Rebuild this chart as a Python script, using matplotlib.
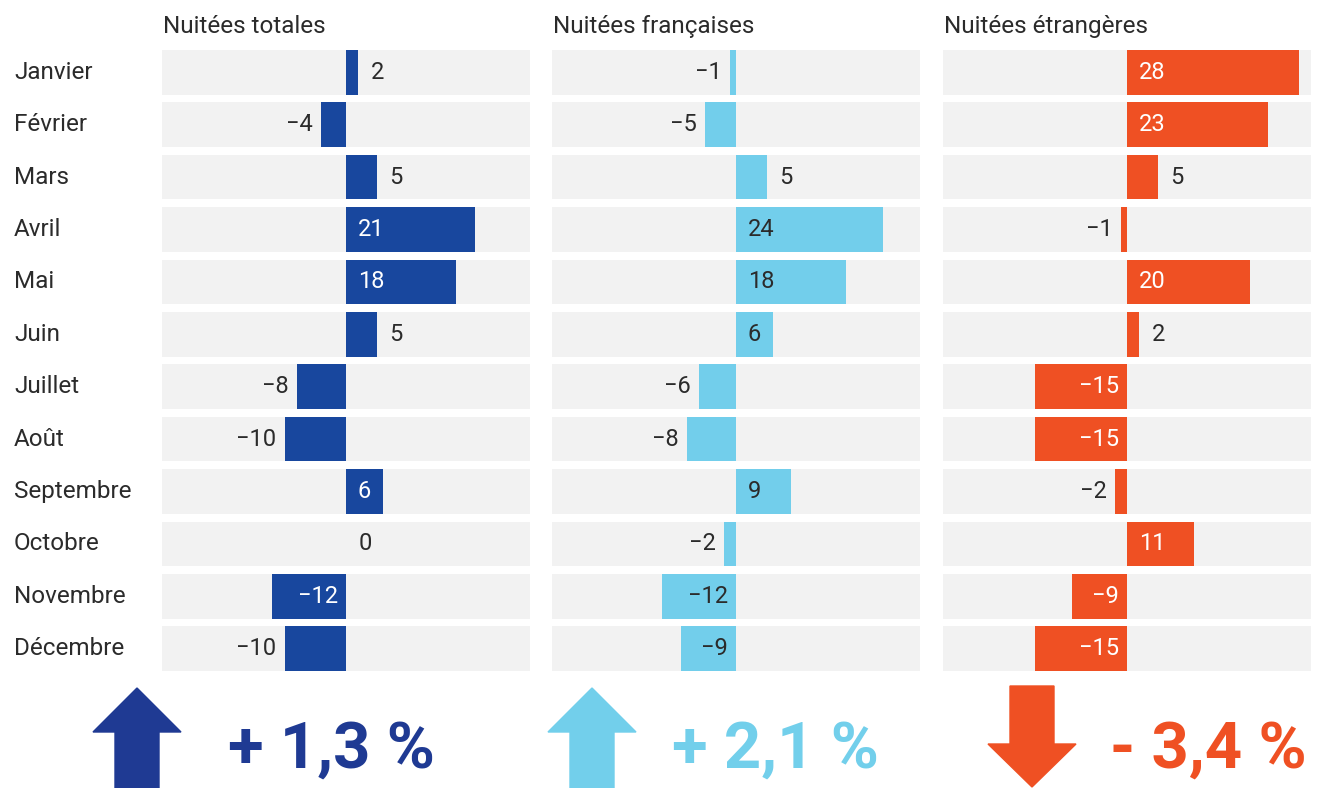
import numpy as np
import matplotlib
matplotlib.use("Agg")
import matplotlib.pyplot as plt
import matplotlib.transforms as mtransforms
from matplotlib.patches import Polygon

plt.rcParams['font.family'] = ['Roboto', 'DejaVu Sans']

months = ["Janvier", "Février", "Mars", "Avril", "Mai", "Juin", "Juillet",
          "Août", "Septembre", "Octobre", "Novembre", "Décembre"]
titles = ["Nuitées totales", "Nuitées françaises", "Nuitées étrangères"]
totales = [2, -4, 5, 21, 18, 5, -8, -10, 6, 0, -12, -10]
francaises = [-1, -5, 5, 24, 18, 6, -6, -8, 9, -2, -12, -9]
etrangeres = [28, 23, 5, -1, 20, 2, -15, -15, -2, 11, -9, -15]
annual = ["+ 1,3 %", "+ 2,1 %", "- 3,4 %"]
directions = ["up", "up", "down"]

series = [totales, francaises, etrangeres]
bar_colors = ["#18479E", "#72CEEB", "#EF5023"]
inside_text = ["white", "#2b2b2b", "white"]
arrow_colors = ["#1F3A93", "#72CFEB", "#EF5023"]
text_dark = "#2b2b2b"

W, H = 1317, 788
fig = plt.figure(figsize=(W / 100, H / 100), dpi=100)
renderer = fig.canvas.get_renderer()

lefts = [162, 552, 943]
pw = 368
top_px, bot_px = 50, 671
bh = 0.85
y = np.arange(len(months))
px_per_unit = pw / 60


def label_width(s):
    t = fig.text(0, 0, s, fontsize=17)
    w = t.get_window_extent(renderer).width
    t.remove()
    return w


axes = []
for k in range(3):
    ax = fig.add_axes([lefts[k] / W, (H - bot_px) / H, pw / W, (bot_px - top_px) / H])
    ax.barh(y, 60, left=-30, height=bh, color="#F2F2F2", zorder=1)
    ax.barh(y, series[k], height=bh, color=bar_colors[k], zorder=2)
    ax.set_xlim(-30, 30)
    ax.set_ylim(len(months) - 1 + bh / 2, -bh / 2)
    ax.axis("off")
    ax.annotate(titles[k], xy=(0, 1), xycoords="axes fraction", xytext=(1, 17),
                textcoords="offset points", ha="left", va="center",
                fontsize=17.5, color=text_dark)
    for i, v in enumerate(series[k]):
        label = str(v).replace("-", "\u2212")
        lw = label_width(label)
        bar_px = abs(v) * px_per_unit
        if v > 0 and bar_px - 12 - lw >= 9:
            ax.annotate(label, xy=(0, i), xytext=(8.5, 0), textcoords="offset points",
                        ha="left", va="center", fontsize=17, color=inside_text[k], zorder=3)
        elif v < 0 and bar_px - 8 - lw >= 20:
            ax.annotate(label, xy=(0, i), xytext=(-6, 0), textcoords="offset points",
                        ha="right", va="center", fontsize=17, color=inside_text[k], zorder=3)
        elif v >= 0:
            ax.annotate(label, xy=(v, i), xytext=(9, 0), textcoords="offset points",
                        ha="left", va="center", fontsize=17, color=text_dark, zorder=3)
        else:
            ax.annotate(label, xy=(v, i), xytext=(-6, 0), textcoords="offset points",
                        ha="right", va="center", fontsize=17, color=text_dark, zorder=3)
    axes.append(ax)

# month labels
tr = mtransforms.blended_transform_factory(fig.transFigure, axes[0].transData)
for i, m in enumerate(months):
    axes[0].text(14 / W, i, m, transform=tr, ha="left", va="center",
                 fontsize=17.5, color=text_dark)

# arrows and annual figures
over = fig.add_axes([0, 0, 1, 1])
over.set_xlim(0, W)
over.set_ylim(H, 0)
over.axis("off")

arrow_cx = [137, 592, 1032]
text_x = [228, 672, 1110]
for k in range(3):
    cx = arrow_cx[k]
    hw, sw = 44, 22
    if directions[k] == "up":
        tip, base, end = 688, 732, 800
        pts = [(cx, tip), (cx + hw, base), (cx + sw, base), (cx + sw, end),
               (cx - sw, end), (cx - sw, base), (cx - hw, base)]
    else:
        start, base, tip = 686, 744, 787
        pts = [(cx - sw, start), (cx + sw, start), (cx + sw, base), (cx + hw, base),
               (cx, tip), (cx - hw, base), (cx - sw, base)]
    over.add_patch(Polygon(pts, closed=True, color=arrow_colors[k], clip_on=False))
    over.text(text_x[k], 750, annual[k], ha="left", va="center", fontsize=47,
              fontweight="bold", color=arrow_colors[k], clip_on=False)

fig.savefig("out.png", dpi=100)
